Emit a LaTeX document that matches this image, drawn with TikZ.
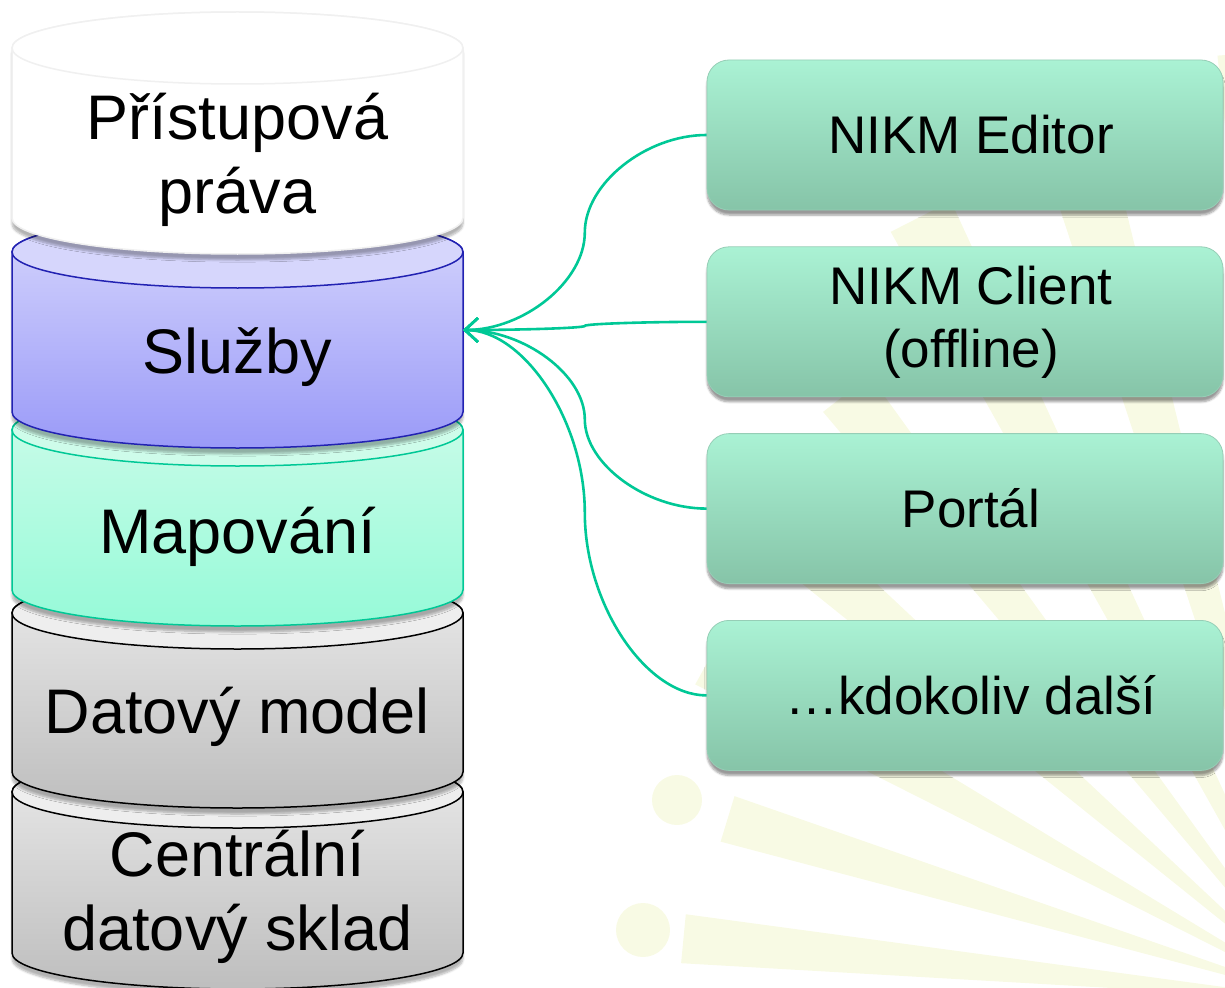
\documentclass[tikz,border=0pt]{standalone}
\usepackage{fontspec}
\setmainfont{Liberation Sans}
\usetikzlibrary{positioning,calc,arrows.meta,shadows.blur}

\definecolor{linkgreen}{RGB}{0,200,150}
\definecolor{raycol}{RGB}{248,250,228}
\definecolor{boxtop}{RGB}{170,242,212}
\definecolor{boxbot}{RGB}{134,196,168}
\definecolor{boxedge}{RGB}{150,206,182}
\definecolor{slutop}{RGB}{214,214,252}
\definecolor{slubot}{RGB}{154,154,248}
\definecolor{sluline}{RGB}{34,34,178}
\definecolor{maptop}{RGB}{206,252,234}
\definecolor{mapbot}{RGB}{150,250,216}
\definecolor{greytop}{RGB}{234,234,234}
\definecolor{greybot}{RGB}{190,190,190}

\tikzset{
  layer/.style={line width=1.5pt,blur shadow={shadow xshift=0pt,shadow yshift=-6pt,shadow blur steps=6,shadow opacity=30}},
  client/.style={rectangle,rounded corners=22pt,minimum width=516pt,minimum height=150pt,inner sep=4pt,
    top color=boxtop,bottom color=boxbot,draw=boxedge,line width=0.8pt,
    blur shadow={shadow xshift=0pt,shadow yshift=-5pt,shadow blur steps=6,shadow opacity=40},
    font=\fontsize{53}{63}\selectfont,align=center},
  lbl/.style={font=\fontsize{63}{74}\selectfont,align=center},
  link/.style={linkgreen,line width=2.6pt,-{Straight Barb[length=13pt,width=24pt]}}
}

% one slice of the stack: top y, bottom y, colours
\newcommand{\dbbody}[3]{%
  \path[layer,#3] (12,#1) -- (12,#2) arc[start angle=180,end angle=0,x radius=225.5,y radius=36]
    -- (463,#1) arc[start angle=0,end angle=-180,x radius=225.5,y radius=36] -- cycle;}
\newcommand{\dbcap}[2]{%
  \path[line width=1.5pt,#2] (237.5,#1) ellipse[x radius=225.5,y radius=36];}

\begin{document}
\begin{tikzpicture}[x=1pt,y=-1pt]
\useasboundingbox (0,0) rectangle (1225,987);

% background sun
\coordinate (sun) at (1320,1000);
\foreach \a/\r in {185.5/640,197/620,209/700,221/760,232/770,243/880,254/900,266/950}
  \fill[raycol] (sun) -- ($(sun)+(\a-2.2:\r)$) -- ($(sun)+(\a+2.2:\r)$) -- cycle;
\fill[raycol] (643,930) circle[radius=27];
\fill[raycol] (677,800) circle[radius=25];

% the stack, bottom first
\dbbody{792}{953}{top color=greytop,bottom color=greybot,draw=black}
\dbcap{792}{fill=greytop!80!white,draw=black}
\dbbody{613}{772}{top color=greytop,bottom color=greybot,draw=black}
\dbcap{613}{fill=greytop!80!white,draw=black}
\dbbody{430}{590}{top color=maptop,bottom color=mapbot,draw=linkgreen}
\dbcap{430}{fill=maptop,draw=linkgreen}
\dbbody{252}{412}{top color=slutop,bottom color=slubot,draw=sluline}
\dbcap{252}{fill=slutop,draw=sluline}
\dbbody{48}{218}{fill=white,draw=black!6}
\dbcap{48}{fill=white,draw=black!6}

\node[lbl] (prava) at (237.5,160) {Přístupová\\práva};
\node[lbl,anchor=base] (sluzby) at (237.5,373) {Služby};
\node[lbl,anchor=base] (mapovani) at (237.5,553) {Mapování};
\node[lbl,anchor=base] (model) at (237.5,733) {Datový model};
\node[lbl] (sklad) at (237.5,897) {Centrální\\datový sklad};
\coordinate (sl) at (463,330);

% clients
\node[client] (ed) at (965,135) {\hspace{12pt}NIKM Editor};
\node[client,below=36pt of ed] (cl) {\hspace{12pt}NIKM Client\\\hspace{12pt}(offline)};
\node[client,below=36pt of cl] (po) {\hspace{12pt}Portál};
\node[client,below=36pt of po] (da) {\hspace{12pt}…kdokoliv další};

\foreach \b in {ed,cl,po,da}{
  \coordinate (m) at ($(\b.west)!.5!(sl)$);
  \draw[link] (\b.west) .. controls ($(\b.west)!.5!(\b.west -| m)$) and ($(m)!.5!(m |- \b.west)$) .. (m)
    .. controls ($(m)!.5!(m |- sl)$) and ($(sl)!.5!(sl -| m)$) .. (sl);
}
\end{tikzpicture}
\end{document}
